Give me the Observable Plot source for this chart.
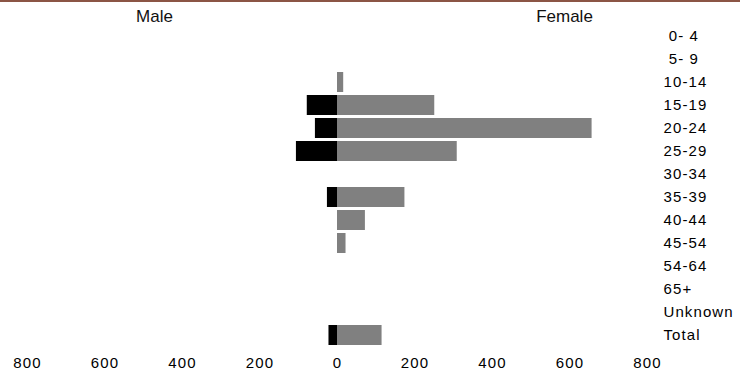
<!DOCTYPE html>
<html>
<head>
<meta charset="utf-8">
<script src="https://cdn.jsdelivr.net/npm/d3@7"></script>
<script src="https://cdn.jsdelivr.net/npm/@observablehq/plot@0.6"></script>
<style>
  html, body { margin: 0; padding: 0; background: #fff; }
  #wrap { position: relative; width: 740px; height: 370px; }
  #topline { position: absolute; left: 0; top: 0; width: 740px; height: 2px; background: #8b5545; }
  #wrap svg { display: block; }
  .rowlab text, .xlab text { letter-spacing: 1.1px; }
</style>
</head>
<body>
<div id="wrap"><div id="topline"></div></div>
<script>
const ageGroups = ["\u00a00- 4", "\u00a05- 9", "10-14", "15-19", "20-24", "25-29", "30-34", "35-39", "40-44", "45-54", "54-64", "65+", "Unknown", "Total"];
const maleValues = [0, 0, 0, 78, 57, 106, 0, 26, 0, 0, 0, 0, 0, 22];
const femaleValues = [0, 0, 16, 251, 657, 309, 0, 174, 72, 22, 0, 0, 0, 115];
const xTicks = [-800, -600, -400, -200, 0, 200, 400, 600, 800];
const headers = ["Male", "Female"];

const rows = ageGroups.map((age, i) => ({age, male: maleValues[i], female: femaleValues[i]}));

const chart = Plot.plot({
  width: 740,
  height: 370,
  marginTop: 23.4,
  marginBottom: 22.4,
  marginLeft: 27,
  marginRight: 93,
  style: {fontFamily: "'Liberation Sans', Arial, sans-serif", fontSize: "15px", color: "#000", background: "#fff", overflow: "visible"},
  x: {domain: [-800, 800]},
  y: {domain: ageGroups, paddingInner: 0.14, paddingOuter: 0.07},
  marks: [
    Plot.barX(rows, {x1: 0, x2: d => -d.male, y: "age", fill: "#000000"}),
    Plot.barX(rows, {x1: 0, x2: "female", y: "age", fill: "#808080"}),
    Plot.axisX({ticks: xTicks, tickFormat: d => Math.abs(d), tickSize: 0, tickPadding: 9, label: null, className: "xlab"}),
    Plot.axisY({anchor: "right", tickSize: 0, tickPadding: 16, label: null, className: "rowlab"}),
    Plot.text([headers[0]], {text: d => d, frameAnchor: "top-left", dx: 127, dy: -7, fontSize: 17, textAnchor: "middle", lineAnchor: "middle", fill: "#111"}),
    Plot.text([headers[1]], {text: d => d, frameAnchor: "top-left", dx: 537, dy: -7, fontSize: 17, textAnchor: "middle", lineAnchor: "middle", fill: "#111"})
  ]
});
document.getElementById("wrap").appendChild(chart);
</script>
</body>
</html>
